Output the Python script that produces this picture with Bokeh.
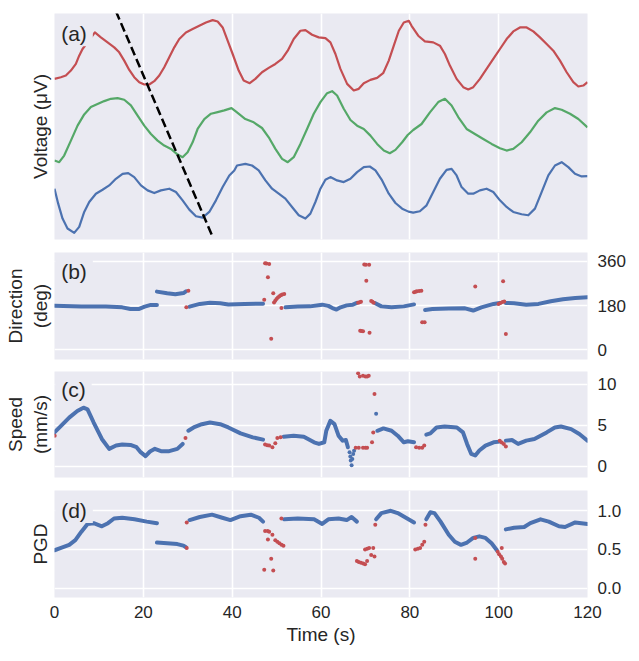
from bokeh.plotting import figure
from bokeh.layouts import column
from bokeh.models import LinearAxis, FixedTicker, Label, Range1d, NumeralTickFormatter
from bokeh.embed import file_html
from bokeh.resources import INLINE

FONT = "Liberation Sans"
BG = "#EAEAF2"
TXT = "#262626"
RED = "#C44E52"
GREEN = "#55A868"
BLUE = "#4C72B0"

# ---------------- data ----------------
x_ticks = [0, 20, 40, 60, 80, 100, 120]

# (a) voltage traces (arbitrary offset units)
red_t = [0, 1.43, 2.56, 3.69, 4.81, 5.56, 6.31, 7.82, 9.09, 10.44, 11.95, 13.45, 14.57, 15.70, 16.83,
         17.95, 19.08, 20.21, 21.33, 22.46, 23.59, 24.71, 25.84, 26.97, 28.09, 29.59, 31.10, 32.60,
         34.10, 35.60, 36.73, 37.86, 38.98, 40.11, 41.47, 42.59, 43.95, 45.22, 46.72, 48.23, 49.73,
         51.23, 52.51, 53.86, 55.36, 56.49, 57.99, 59.49, 60.99, 62.12, 63.25, 64.37, 65.88, 67.38,
         68.50, 69.63, 71.13, 72.63, 73.99, 75.26, 76.39, 77.52, 78.64, 79.77, 80.39, 81.89, 83.39,
         85.27, 86.77, 87.90, 89.02, 90.53, 92.03, 93.15, 94.28, 95.78, 97.28, 98.79, 100.29, 101.79,
         103.29, 104.79, 106.30, 107.80, 109.30, 110.80, 112.30, 113.81, 115.31, 116.81, 117.94,
         119.06, 120]
red_v = [4.84, 4.89, 4.94, 5.09, 5.29, 5.54, 5.74, 6.01, 6.24, 6.09, 5.94, 5.79, 5.64, 5.39, 5.11,
         4.89, 4.74, 4.67, 4.67, 4.77, 4.94, 5.19, 5.49, 5.79, 6.04, 6.24, 6.34, 6.44,
         6.54, 6.61, 6.57, 6.39, 5.99, 5.59, 5.09, 4.79, 4.71, 4.84, 5.04, 5.17, 5.29,
         5.44, 5.69, 6.04, 6.29, 6.31, 6.17, 6.09, 6.07, 5.94, 5.59, 5.14, 4.69, 4.49,
         4.54, 4.71, 4.81, 4.87, 5.01, 5.39, 5.84, 6.29, 6.54, 6.59, 6.44, 6.14, 5.97,
         5.94, 5.84, 5.59, 5.24, 4.84, 4.59, 4.52, 4.59, 4.84, 5.14, 5.44, 5.74, 6.04,
         6.27, 6.39, 6.39, 6.27, 6.09, 5.89, 5.69, 5.39, 5.04, 4.74, 4.61,
         4.64, 4.74]

green_t = [0, 1.06, 2.18, 3.69, 5.19, 6.69, 8.19, 9.69, 11.20, 12.70, 14.20, 15.70, 17.20, 18.71, 20.21,
           21.71, 23.21, 24.71, 26.22, 27.72, 28.84, 29.97, 31.10, 32.22, 33.73, 35.23, 36.73, 38.23,
           39.85, 41.09, 42.97, 44.85, 46.72, 48.23, 49.73, 51.23, 52.51, 53.86, 55.36, 56.86, 58.37,
           59.87, 61.37, 62.50, 63.62, 65.12, 66.63, 68.13, 69.63, 71.13, 72.63, 74.14, 75.49, 76.76,
           78.27, 79.52, 80.76, 82.64, 84.52, 86.40, 87.90, 89.40, 90.90, 92.78, 94.65, 96.53, 98.41,
           100.29, 101.79, 103.29, 105.17, 107.05, 108.92, 110.80, 112.68, 114.18, 116.06, 117.94, 120]
green_v = [2.38, 2.33, 2.53, 2.98, 3.43, 3.77, 3.99, 4.08, 4.17, 4.24, 4.26, 4.21, 4.04, 3.73, 3.43,
           3.18, 2.98, 2.83, 2.73, 2.56, 2.48, 2.63, 2.93, 3.33, 3.63, 3.79, 3.84, 3.89,
           3.96, 3.83, 3.63, 3.53, 3.36, 3.08, 2.73, 2.43, 2.33, 2.48, 2.88, 3.33, 3.79,
           4.14, 4.41, 4.47, 4.34, 3.94, 3.60, 3.43, 3.33, 3.13, 2.88, 2.68, 2.60, 2.70,
           2.93, 3.15, 3.30, 3.48, 3.83, 4.14, 4.24, 4.04, 3.69, 3.33, 3.18, 3.03, 2.88,
           2.75, 2.68, 2.73, 2.93, 3.23, 3.58, 3.83, 3.96, 3.91, 3.79, 3.63, 3.38]

blue_t = [0, 0.83, 1.81, 2.93, 4.44, 5.56, 6.69, 7.82, 9.32, 10.82, 12.32, 13.82, 15.33, 16.60, 17.95,
          19.46, 20.96, 22.46, 23.96, 25.84, 27.34, 28.84, 30.35, 31.85, 33.35, 34.85, 36.35, 37.86,
          39.36, 40.48, 41.09, 42.97, 44.47, 45.97, 47.48, 48.98, 50.48, 51.98, 53.48, 54.99, 56.49,
          57.61, 58.74, 59.87, 60.99, 62.12, 63.62, 65.12, 66.63, 68.13, 69.63, 70.98, 72.26, 73.76,
          75.26, 76.76, 78.27, 79.70, 80.76, 82.26, 83.77, 85.27, 86.77, 88.27, 89.40, 90.53, 91.65,
          93.15, 94.28, 95.78, 97.28, 98.79, 100.29, 101.79, 103.29, 105.17, 106.67, 108.17, 109.67,
          111.18, 112.68, 114.18, 115.68, 117.18, 118.68, 120]
blue_v = [1.53, 1.08, 0.63, 0.33, 0.20, 0.38, 0.83, 1.13, 1.38, 1.50, 1.63, 1.83, 1.98, 2.00, 1.88,
          1.63, 1.48, 1.40, 1.48, 1.53, 1.43, 1.18, 0.90, 0.70, 0.66, 0.83, 1.18, 1.58,
          1.93, 2.08, 2.23, 2.28, 2.23, 2.08, 1.78, 1.53, 1.38, 1.23, 0.98, 0.73, 0.63,
          0.78, 1.13, 1.53, 1.80, 1.88, 1.78, 1.73, 1.83, 2.03, 2.18, 2.20, 2.08, 1.78,
          1.38, 1.10, 0.93, 0.84, 0.81, 0.85, 1.03, 1.43, 1.83, 2.10, 2.13, 1.93, 1.58,
          1.38, 1.38, 1.48, 1.53, 1.43, 1.18, 0.98, 0.83, 0.76, 0.73, 0.93, 1.43,
          1.93, 2.23, 2.33, 2.18, 1.98, 1.90, 1.91]

wave_t = [13.82, 35.60]
wave_v = [6.88, 0.08]

# (b) direction (deg)
dir_seg_t = [[0, 6.06, 11.58, 15.25, 17.09, 18.93, 20.31, 21.68, 23.06],
             [23.06, 25.36, 27.20, 29.03, 29.60],
             [30.41, 32.71, 35.01, 37.30, 39.14, 42.82, 46.95],
             [52.01, 54.76, 57.52, 60.27, 61.65, 62.57, 63.49, 64.41, 65.79, 67.16, 68.08],
             [72.22, 73.60, 75.89, 78.65, 80.95],
             [83.43, 85.08, 88.76, 92.43, 94.27, 96.11, 98.86, 100.24],
             [101.62, 103.46, 106.21, 108.97, 111.73, 114.48, 117.24, 120]]
dir_seg_v = [[180, 176, 176, 173, 166, 166, 176, 183, 183],
             [237, 230, 226, 231, 238],
             [176, 187, 192, 190, 185, 187, 188],
             [173, 176, 177, 184, 179, 170, 164, 173, 181, 184, 191],
             [190, 177, 173, 177, 185],
             [162, 166, 168, 169, 160, 173, 187, 191],
             [191, 190, 184, 187, 198, 206, 211, 214]]
dir_red_t = [29.68, 30.14, 47.22, 47.41, 47.70, 48.05, 48.33, 48.79, 49.25, 49.43, 49.70, 49.98, 50.30,
             50.63, 50.95, 51.27, 51.73, 51.09, 68.36, 68.70, 69.00, 69.74, 70.10, 70.84, 70.20, 68.82,
             69.10, 69.46, 70.93, 71.30, 71.60, 71.85, 80.95, 81.30, 81.59, 82.10, 82.60, 82.78, 83.33,
             94.73, 99.97, 100.40, 100.88, 101.25, 101.00, 101.62]
dir_red_v = [173, 241, 204, 352, 351, 295, 349, 45, 230, 193, 200, 207, 213,
             218, 222, 225, 227, 170, 192, 194, 196, 347, 346, 346, 281, 78,
             77, 76, 70, 199, 196, 192, 234, 236, 238, 239, 241, 112, 112,
             258, 187, 191, 195, 197, 279, 65]

# (c) speed (mm/s)
spd_seg_t = [[0, 1.47, 3.31, 5.14, 6.52, 7.44, 8.82, 10.66, 12.31, 13.87, 15.25, 17.09, 18.47, 19.39,
              20.49, 21.50, 22.60, 23.98, 25.82, 27.66, 28.85],
             [30.14, 31.33, 33.17, 35.01, 37.30, 39.14, 41.90, 44.65, 46.95],
             [51.55, 53.84, 56.13, 58.44, 59.54, 60.73, 61.19, 62.11, 63.03, 63.95, 64.87, 65.60, 66.06],
             [72.68, 74.06, 75.89, 77.27, 78.65, 79.57, 80.95],
             [83.70, 84.62, 86.00, 87.84, 90.59, 91.97, 92.89, 93.81, 94.73, 95.65, 97.03, 98.86, 100.24],
             [101.62, 102.99, 104.38, 106.21, 108.05, 110.81, 112.65, 114.02, 116.32, 118.16, 120]]
spd_seg_v = [[4.12, 4.92, 5.92, 6.72, 7.12, 6.92, 5.32, 3.32, 2.12, 2.52, 2.64, 2.60, 2.32, 1.72,
              1.24, 1.80, 2.12, 1.84, 1.84, 2.12, 2.72],
             [4.32, 4.72, 5.12, 5.32, 5.12, 4.72, 4.00, 3.52, 3.24],
             [3.60, 3.72, 3.60, 2.92, 2.72, 2.92, 4.32, 5.52, 5.12, 3.72, 3.12, 3.20, 2.32],
             [4.32, 4.60, 4.32, 3.72, 2.92, 3.04, 2.92],
             [3.84, 4.00, 4.72, 4.84, 4.72, 4.12, 2.72, 1.52, 1.32, 1.92, 2.52, 2.92, 3.00],
             [3.12, 3.20, 2.72, 3.12, 3.32, 4.12, 4.72, 4.84, 4.52, 3.92, 3.12]]
spd_dot_t = [66.43, 66.60, 66.70, 66.89, 67.05, 67.25, 67.45, 72.41]
spd_dot_v = [1.72, 1.20, 0.72, 0.12, 0.90, 1.50, 1.90, 6.40]
spd_red_t = [0.05, 29.49, 47.41, 47.90, 48.33, 49.06, 49.71, 50.17, 50.90, 67.81, 68.50, 69.46, 70.00,
             70.38, 68.36, 68.73, 69.46, 70.00, 70.38, 70.75, 72.04, 71.76, 71.49, 81.41, 82.10, 82.78,
             83.24, 100.24, 100.70, 101.16, 101.62]
spd_red_v = [3.72, 3.44, 2.64, 2.56, 2.52, 2.32, 2.80, 3.44, 3.52, 2.24, 2.24, 2.24, 2.24,
             2.24, 11.32, 10.92, 11.00, 10.90, 10.92, 11.00, 8.80, 4.12, 2.92, 2.32, 2.24, 2.24,
             2.52, 3.12, 2.90, 2.72, 2.40]

# (d) PGD
pgd_seg_t = [[0, 1.47, 3.31, 4.69, 6.06, 7.44, 8.82, 10.66, 12.04, 13.41, 15.25, 18.01, 20.77, 23.06],
             [23.06, 25.36, 27.66, 29.03, 29.60],
             [30.41, 32.71, 35.47, 37.76, 39.60, 41.90, 44.19, 46.03, 46.95],
             [51.73, 54.76, 58.44, 60.27, 61.65, 63.95, 65.79, 66.89, 68.08],
             [72.41, 73.60, 75.71, 77.27, 79.11, 80.95],
             [83.70, 84.62, 85.54, 86.92, 88.76, 90.13, 91.51, 92.89, 94.27, 95.65, 97.03, 98.40, 99.60],
             [101.62, 103.46, 105.75, 107.13, 109.43, 111.27, 113.57, 114.94, 117.24, 118.62, 120]]
pgd_seg_v = [[0.49, 0.52, 0.56, 0.62, 0.73, 0.83, 0.84, 0.80, 0.84, 0.90, 0.91, 0.89, 0.86, 0.84],
             [0.59, 0.58, 0.57, 0.55, 0.53],
             [0.88, 0.92, 0.95, 0.91, 0.88, 0.93, 0.95, 0.91, 0.86],
             [0.89, 0.90, 0.89, 0.83, 0.89, 0.90, 0.88, 0.92, 0.86],
             [0.89, 0.97, 1.00, 0.97, 0.91, 0.85],
             [0.89, 0.98, 0.97, 0.86, 0.69, 0.60, 0.56, 0.59, 0.65, 0.67, 0.65, 0.58, 0.49],
             [0.76, 0.78, 0.79, 0.84, 0.89, 0.86, 0.80, 0.79, 0.85, 0.84, 0.83]]
pgd_red_t = [29.77, 29.77, 47.41, 48.00, 48.33, 49.06, 49.71, 50.17, 50.63, 51.10, 51.55, 48.05, 48.79,
             47.22, 49.25, 51.09, 68.08, 68.50, 69.00, 69.50, 69.92, 70.38, 69.92, 70.40, 70.84, 71.30,
             71.76, 72.04, 72.22, 81.22, 81.80, 82.32, 82.80, 83.24, 83.52, 94.73, 94.73, 99.78, 100.10,
             100.51, 100.80, 101.16, 101.44, 100.70]
pgd_red_v = [0.52, 0.85, 0.74, 0.74, 0.73, 0.69, 0.62, 0.60, 0.58, 0.56, 0.55, 0.63, 0.38,
             0.24, 0.23, 0.90, 0.35, 0.34, 0.33, 0.32, 0.31, 0.35, 0.50, 0.51, 0.52, 0.43,
             0.52, 0.41, 0.82, 0.50, 0.51, 0.52, 0.56, 0.60, 0.82, 0.38, 0.65, 0.47, 0.44,
             0.41, 0.38, 0.34, 0.32, 0.52]


# ---------------- helpers ----------------
def make_fig(yr, frame_h, top_b, bottom_b, ticks, ylabel, fmt=None, show_x=False):
    p = figure(frame_width=533, frame_height=frame_h,
               x_range=Range1d(0, 120), y_range=Range1d(*yr),
               y_axis_location="right", output_backend="svg", toolbar_location=None,
               min_border_left=54, min_border_right=44, min_border_top=top_b,
               min_border_bottom=bottom_b,
               background_fill_color=BG, border_fill_color="white", outline_line_color=None)
    ax = p.right[0]
    ax.ticker = FixedTicker(ticks=ticks)
    if fmt:
        ax.formatter = NumeralTickFormatter(format=fmt)
    ax.axis_line_color = None
    ax.major_tick_line_color = None
    ax.minor_tick_line_color = None
    ax.major_tick_out = 0
    ax.major_tick_in = 0
    ax.major_label_standoff = 10
    ax.major_label_text_font = FONT
    ax.major_label_text_font_size = "17px"
    ax.major_label_text_color = TXT

    p.xgrid.ticker = FixedTicker(ticks=x_ticks)
    p.xgrid.grid_line_color = "white"
    p.xgrid.grid_line_width = 1.6
    p.ygrid.grid_line_color = "white"
    p.ygrid.grid_line_width = 1.6
    if not ticks:
        p.ygrid.visible = False

    xa = p.xaxis[0]
    xa.ticker = FixedTicker(ticks=x_ticks)
    if show_x:
        xa.axis_line_color = None
        xa.major_tick_line_color = None
        xa.minor_tick_line_color = None
        xa.major_tick_out = 0
        xa.major_tick_in = 0
        xa.major_label_standoff = 8
        xa.major_label_text_font = FONT
        xa.major_label_text_font_size = "17px"
        xa.major_label_text_color = TXT
        xa.axis_label = "Time (s)"
        xa.axis_label_text_font = FONT
        xa.axis_label_text_font_size = "19px"
        xa.axis_label_text_font_style = "normal"
        xa.axis_label_text_color = TXT
        xa.axis_label_standoff = 3
    else:
        xa.visible = False

    la = LinearAxis(ticker=FixedTicker(ticks=[]), axis_label=ylabel,
                    axis_line_color=None, major_tick_line_color=None, minor_tick_line_color=None,
                    major_tick_out=0, major_tick_in=0, major_label_standoff=0,
                    axis_label_standoff=4, axis_label_text_font=FONT,
                    axis_label_text_font_size="19px", axis_label_text_font_style="normal",
                    axis_label_text_color=TXT, axis_label_text_line_height=1.15)
    p.add_layout(la, "left")
    return p


def panel_label(p, x, y, text):
    p.add_layout(Label(x=x, y=y, text=text, text_baseline="middle", text_align="left",
                       text_font=FONT, text_font_size="21px", text_color=TXT,
                       background_fill_color=BG, background_fill_alpha=1.0,
                       padding=dict(left=6, right=6, top=3, bottom=1)))


# ---------------- (a) ----------------
pa = make_fig((0, 6.81), 226, 13, 13, [], "Voltage (μV)")
pa.line(red_t, red_v, line_color=RED, line_width=2.2, line_join="round")
pa.line(green_t, green_v, line_color=GREEN, line_width=2.2, line_join="round")
pa.line(blue_t, blue_v, line_color=BLUE, line_width=2.2, line_join="round")
pa.line(wave_t, wave_v, line_color="black", line_width=2.5, line_dash="9 4")
panel_label(pa, 0.15, 6.23, "(a)")

# ---------------- (b) ----------------
pb = make_fig((-39, 396), 107, 0, 12, [0, 180, 360], "Direction\n(deg)")
pb.multi_line(dir_seg_t, dir_seg_v, line_color=BLUE, line_width=4, line_cap="round", line_join="round")
pb.scatter(dir_red_t, dir_red_v, size=4, fill_color=RED, line_color=None)
panel_label(pb, 0.15, 322, "(b)")

# ---------------- (c) ----------------
pc = make_fig((-1.36, 11.52), 106, 0, 13, [0, 5, 10], "Speed\n(mm/s)")
pc.multi_line(spd_seg_t, spd_seg_v, line_color=BLUE, line_width=4, line_cap="round", line_join="round")
pc.scatter(spd_dot_t, spd_dot_v, size=4, fill_color=BLUE, line_color=None)
pc.scatter(spd_red_t, spd_red_v, size=4, fill_color=RED, line_color=None)
panel_label(pc, 0.15, 9.48, "(c)")

# ---------------- (d) ----------------
pd_ = make_fig((-0.12, 1.262), 107, 0, 10, [0.0, 0.5, 1.0], "PGD", fmt="0.0", show_x=True)
pd_.multi_line(pgd_seg_t, pgd_seg_v, line_color=BLUE, line_width=4, line_cap="round", line_join="round")
pd_.scatter(pgd_red_t, pgd_red_v, size=4, fill_color=RED, line_color=None)
panel_label(pd_, 0.15, 1.017, "(d)")

layout = column(pa, pb, pc, pd_, spacing=0)
open("out.html", "w").write(file_html(layout, INLINE))
